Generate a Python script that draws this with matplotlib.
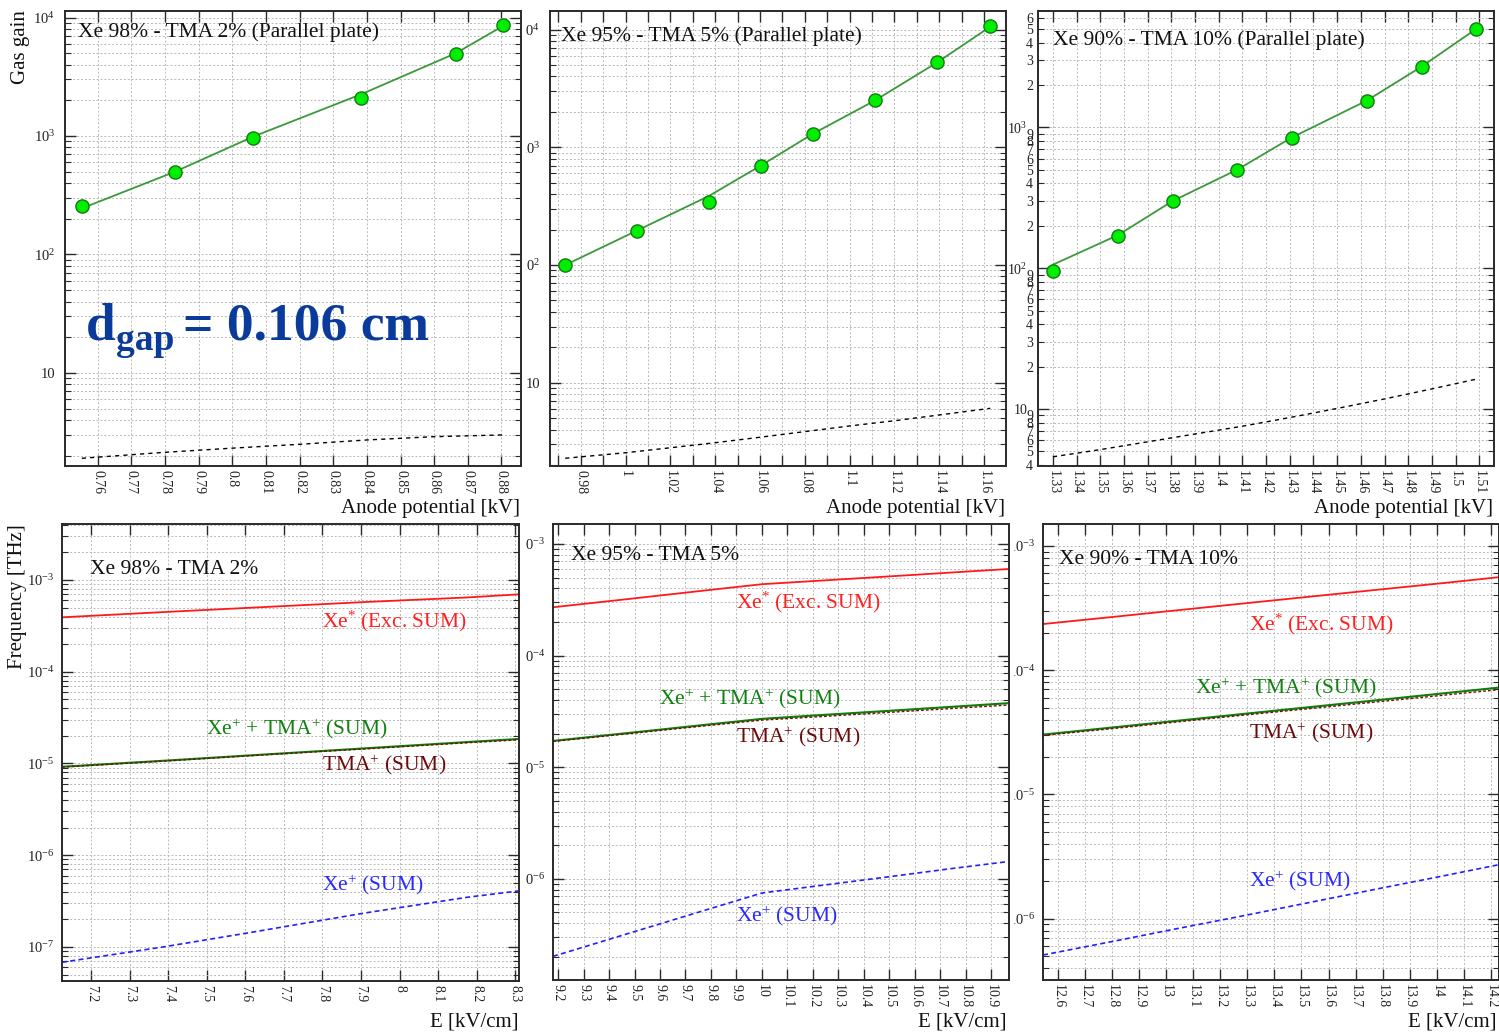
import numpy as np
import matplotlib
matplotlib.use('Agg')
import matplotlib.pyplot as plt
from matplotlib.ticker import MultipleLocator, LogLocator, FuncFormatter, NullFormatter
from matplotlib.transforms import Bbox, TransformedBbox

W, H = 1499, 1033
plt.rcParams['font.family'] = ['Liberation Serif', 'DejaVu Serif']
plt.rcParams['mathtext.fontset'] = 'custom'
plt.rcParams['mathtext.rm'] = 'Liberation Serif'
plt.rcParams['mathtext.it'] = 'Liberation Serif:italic'
plt.rcParams['mathtext.bf'] = 'Liberation Serif:bold'

# ---------------- data ----------------
top_titles = ["Xe 98% - TMA 2% (Parallel plate)",
              "Xe 95% - TMA 5% (Parallel plate)",
              "Xe 90% - TMA 10% (Parallel plate)"]
bottom_titles = ["Xe 98% - TMA 2%", "Xe 95% - TMA 5%", "Xe 90% - TMA 10%"]

# anode potential [kV]
v98 = [0.7553, 0.7830, 0.8062, 0.8383, 0.8664, 0.8805]
v95 = [0.9731, 1.0051, 1.0371, 1.0603, 1.0837, 1.1114, 1.1391, 1.1628]
v90 = [1.3300, 1.3575, 1.3805, 1.4078, 1.4308, 1.4625, 1.4856, 1.5087]

# measured gas gain (markers)
gain98_meas = [258, 500, 956, 2080, 4950, 8690]
gain95_meas = [100, 196, 343, 698, 1306, 2505, 5270, 10700]
gain90_meas = [95.7, 170, 300, 501, 847, 1550, 2700, 5010]

# simulated gas gain (solid green line)
gain98_sim = [245, 500, 987, 2250, 4990, 8500]
gain95_sim = [100, 196, 385, 698, 1306, 2505, 5270, 10600]
gain90_sim = [106, 172, 300, 501, 847, 1550, 2700, 5010]

# dashed black curve
v98_ref = [0.7553, 0.78, 0.80, 0.82, 0.84, 0.86, 0.8805]
gain98_ref = [1.905, 2.14, 2.32, 2.50, 2.72, 2.90, 3.00]
v95_ref = [0.9731, 1.00, 1.02, 1.04, 1.06, 1.08, 1.10, 1.12, 1.14, 1.1628]
gain95_ref = [2.28, 2.54, 2.80, 3.09, 3.44, 3.84, 4.29, 4.75, 5.32, 6.06]
v90_ref = [1.33, 1.35, 1.37, 1.39, 1.41, 1.43, 1.45, 1.47, 1.49, 1.5087]
gain90_ref = [4.58, 5.15, 5.85, 6.65, 7.55, 8.70, 10.1, 11.8, 13.9, 16.3]

# reduced field E [kV/cm] and frequencies [THz]
E98 = [7.124, 7.387, 7.606, 7.909, 8.174, 8.310]
exc98 = [3.92e-4, 4.47e-4, 4.97e-4, 5.75e-4, 6.45e-4, 6.98e-4]
ion98 = [9.2e-6, 1.07e-5, 1.22e-5, 1.46e-5, 1.71e-5, 1.85e-5]
tma98 = [9.13e-6, 1.06e-5, 1.21e-5, 1.44e-5, 1.68e-5, 1.81e-5]
xe98 = [6.8e-8, 1.0e-7, 1.42e-7, 2.34e-7, 3.47e-7, 4.08e-7]

E95 = [9.18, 9.48, 9.78, 10.0, 10.22, 10.48, 10.75, 10.97]
exc95 = [2.71e-4, 3.22e-4, 3.84e-4, 4.36e-4, 4.68e-4, 5.09e-4, 5.56e-4, 5.97e-4]
ion95 = [1.72e-5, 2.03e-5, 2.40e-5, 2.71e-5, 2.92e-5, 3.18e-5, 3.48e-5, 3.75e-5]
tma95 = [1.70e-5, 2.00e-5, 2.35e-5, 2.64e-5, 2.83e-5, 3.08e-5, 3.36e-5, 3.61e-5]
xe95 = [2.02e-7, 3.26e-7, 5.26e-7, 7.46e-7, 8.65e-7, 1.03e-6, 1.24e-6, 1.43e-6]

E90 = [12.545, 12.81, 13.02, 13.28, 13.50, 13.80, 14.02, 14.23]
exc90 = [2.35e-4, 2.69e-4, 3.00e-4, 3.43e-4, 3.84e-4, 4.48e-4, 5.01e-4, 5.60e-4]
ion90 = [3.03e-5, 3.47e-5, 3.87e-5, 4.43e-5, 4.96e-5, 5.79e-5, 6.49e-5, 7.24e-5]
tma90 = [2.98e-5, 3.40e-5, 3.79e-5, 4.33e-5, 4.83e-5, 5.61e-5, 6.27e-5, 6.97e-5]
xe90 = [5.10e-7, 6.61e-7, 8.15e-7, 1.05e-6, 1.31e-6, 1.77e-6, 2.20e-6, 2.72e-6]

# ---------------- figure ----------------
fig = plt.figure(figsize=(W / 100, H / 100), dpi=100)


def add_ax(l, r, t, b):
    return fig.add_axes([l / W, 1 - b / H, (r - l) / W, (b - t) / H])


def ftext(x, y, s, **kw):
    return fig.text(x / W, 1 - y / H, s, **kw)


def major_fmt(v, pos):
    e = int(round(np.log10(v)))
    if e == 1:
        return '10'
    return r'$10^{%d}$' % e


def minor_digit(v, pos):
    e = np.floor(np.log10(v) + 1e-9)
    return '%d' % int(round(v / 10 ** e))


def xfmt(v, pos):
    return '%g' % round(v, 3)


def xfmt_even(v, pos):
    k = int(round(v / 0.01))
    return ('%g' % round(v, 3)) if k % 2 == 0 else ''


GRIDC = '#b8b8b8'
FRAME = '#2a2a2a'


def style(ax, xstep, xformatter, minor_labels=False, ypad=7.5):
    ax.set_yscale('log')
    for s in ax.spines.values():
        s.set_linewidth(1.4)
        s.set_color(FRAME)
    ax.xaxis.set_major_locator(MultipleLocator(xstep))
    ax.xaxis.set_major_formatter(FuncFormatter(xformatter))
    ax.yaxis.set_major_locator(LogLocator(base=10, numticks=30))
    ax.yaxis.set_minor_locator(LogLocator(base=10, subs=np.arange(2, 10), numticks=30))
    ax.yaxis.set_major_formatter(FuncFormatter(major_fmt))
    if minor_labels:
        ax.yaxis.set_minor_formatter(FuncFormatter(minor_digit))
    else:
        ax.yaxis.set_minor_formatter(NullFormatter())
    ax.tick_params(which='both', direction='in', top=True, right=True, colors=FRAME)
    ax.tick_params(which='major', length=8, width=1.0)
    ax.tick_params(which='minor', length=4, width=0.8)
    ax.tick_params(axis='x', labelrotation=-90, labelsize=10, pad=3, labelcolor='#222')
    ax.tick_params(axis='y', which='both', labelsize=10.5, pad=ypad, labelcolor='#222')
    ax.grid(True, which='major', axis='x', ls=(0, (2, 2)), color=GRIDC, lw=0.7)
    ax.grid(True, which='both', axis='y', ls=(0, (2, 2)), color=GRIDC, lw=0.7)
    ax.set_axisbelow(True)


# ---- top row ----
top_boxes = [(65, 521, 11, 466), (550, 1006, 11, 466), (1038, 1494, 11, 466)]
top_x = [v98, v95, v90]
top_meas = [gain98_meas, gain95_meas, gain90_meas]
top_sim = [gain98_sim, gain95_sim, gain90_sim]
top_refx = [v98_ref, v95_ref, v90_ref]
top_ref = [gain98_ref, gain95_ref, gain90_ref]
top_xlim = [(0.7503, 0.8858), (0.9663, 1.1698), (1.3237, 1.5162)]
top_ylim = [(1.64, 1.135e4), (1.96, 1.44e4), (3.94, 6.71e3)]
top_fmt = [xfmt, xfmt_even, xfmt]
top_ypad = [7.0, 7.0, 3.5]

top_axes = []
for i in range(3):
    ax = add_ax(*top_boxes[i])
    style(ax, 0.01, top_fmt[i], minor_labels=(i == 2), ypad=top_ypad[i])
    if i == 2:
        ax.tick_params(axis='y', which='both', labelsize=10)
        ax.tick_params(axis='y', which='major', pad=7.5)
    ax.plot(top_refx[i], top_ref[i], color='black', lw=1.0, ls=(0, (3, 3)))
    ax.plot(top_x[i], top_sim[i], color='#3a9a3a', lw=1.3, zorder=3)
    ax.plot(top_x[i], top_meas[i], ls='none', marker='o', ms=9.5,
            mfc='#00ee00', mec='#147a14', mew=1.0, zorder=4)
    ax.set_xlim(*top_xlim[i])
    ax.set_ylim(*top_ylim[i])
    top_axes.append(ax)

# ---- bottom row ----
bot_boxes = [(62, 519, 524, 981), (553, 1009, 524, 980), (1043, 1499, 524, 980)]
bot_E = [E98, E95, E90]
bot_exc = [exc98, exc95, exc90]
bot_ion = [ion98, ion95, ion90]
bot_tma = [tma98, tma95, tma90]
bot_xe = [xe98, xe95, xe90]
bot_ylim = [(4.25e-8, 4.08e-3), (1.24e-7, 1.51e-3), (3.21e-7, 1.50e-3)]

bot_axes = []
for i in range(3):
    ax = add_ax(*bot_boxes[i])
    style(ax, 0.1, xfmt, ypad=5.5)
    ax.plot(bot_E[i], bot_exc[i], color='#ff1a1a', lw=1.3)
    ax.plot(bot_E[i], bot_ion[i], color='#0a800a', lw=1.5)
    ax.plot(bot_E[i], bot_tma[i], color='#7a0a0a', lw=1.0, ls=(0, (2, 1.5)))
    ax.plot(bot_E[i], bot_xe[i], color='#2020ff', lw=1.2, ls=(0, (3, 2)))
    ax.set_xlim(min(bot_E[i]), max(bot_E[i]))
    ax.set_ylim(*bot_ylim[i])
    bot_axes.append(ax)

# ---- texts ----
TFS = 15.5
ftext(78, 32, top_titles[0], fontsize=TFS, va='center', color='#111')
ftext(561, 36, top_titles[1], fontsize=TFS, va='center', color='#111')
ftext(1053, 40, top_titles[2], fontsize=TFS, va='center', color='#111')

DBLUE = '#0b3b9a'
ftext(86, 340, 'd', fontsize=38.5, fontweight='bold', color=DBLUE, va='baseline')
ftext(116, 350, 'gap', fontsize=27, fontweight='bold', color=DBLUE, va='baseline')
ftext(183, 340, '= 0.106 cm', fontsize=38.5, fontweight='bold', color=DBLUE, va='baseline')

AFS = 15
ftext(20, 10, 'Gas gain', fontsize=AFS, rotation=90, ha='center', va='top', color='#111')
ftext(18, 524, 'Frequency [THz]', fontsize=AFS, rotation=90, ha='center', va='top', color='#111')
for xr in (520, 1005, 1493):
    ftext(xr, 509, 'Anode potential [kV]', fontsize=AFS, ha='right', va='center', color='#111')
for xr in (518, 1007, 1497):
    ftext(xr, 1022, 'E [kV/cm]', fontsize=AFS, ha='right', va='center', color='#111')

RC, GC, TC, BC = '#ff2020', '#108010', '#6b0a0a', '#2a2aff'
LFS = 15.5
lab_pos = [
    dict(t=(90, 570), exc=(322, 621), ion=(206, 728), tma=(322, 764), xe=(322, 884)),
    dict(t=(571, 556), exc=(736, 602), ion=(659, 698), tma=(736, 736), xe=(736, 915)),
    dict(t=(1059, 560), exc=(1249, 624), ion=(1195, 687), tma=(1249, 732), xe=(1249, 880)),
]
for i, p in enumerate(lab_pos):
    ftext(*p['t'], bottom_titles[i], fontsize=LFS, va='center', color='#111')
    ftext(p['exc'][0], p['exc'][1] + 6, r'Xe$^{*}$ (Exc. SUM)', fontsize=LFS, va='baseline', color=RC)
    ftext(p['ion'][0], p['ion'][1] + 6, r'Xe$^{+}$ + TMA$^{+}$ (SUM)', fontsize=LFS, va='baseline', color=GC)
    ftext(p['tma'][0], p['tma'][1] + 6, r'TMA$^{+}$ (SUM)', fontsize=LFS, va='baseline', color=TC)
    ftext(p['xe'][0], p['xe'][1] + 6, r'Xe$^{+}$ (SUM)', fontsize=LFS, va='baseline', color=BC)

# ---- clip left tick labels hidden behind neighbouring panels ----
fig.canvas.draw()
clips = {1: 526, 4: 526, 5: 1014}
all_axes = top_axes + bot_axes
for idx, xc in clips.items():
    ax = all_axes[idx]
    cb = TransformedBbox(Bbox([[xc / W, 0], [1, 1]]), fig.transFigure)
    for t in ax.yaxis.get_major_ticks() + ax.yaxis.get_minor_ticks():
        t.label1.set_clip_box(cb)
        t.label1.set_clip_on(True)

fig.savefig('out.png', dpi=100)
